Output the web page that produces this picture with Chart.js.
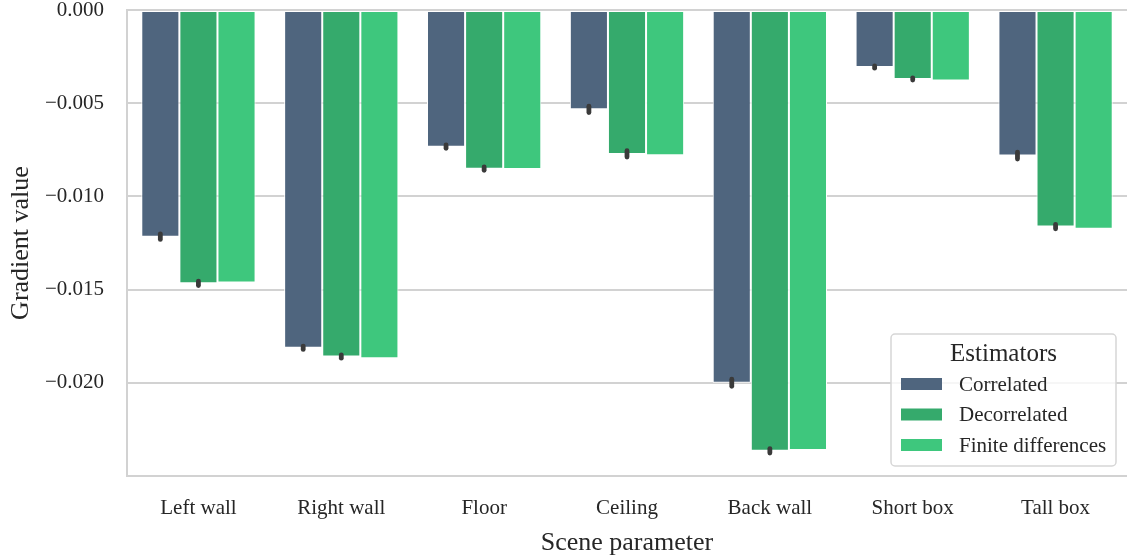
<!DOCTYPE html>
<html>
<head>
<meta charset="utf-8">
<title>Gradient value per scene parameter</title>
<script src="https://cdn.jsdelivr.net/npm/chart.js@4.4.0/dist/chart.umd.min.js"></script>
<style>
    html, body { margin: 0; padding: 0; background: #ffffff; }
    #wrap { width: 1127px; height: 557px; position: relative; }
</style>
</head>
<body>
<div id="wrap"><canvas id="gradient-chart"></canvas></div>
<script>
const sceneParams = ['Left wall', 'Right wall', 'Floor', 'Ceiling', 'Back wall', 'Short box', 'Tall box'];
const correlated = [-0.01216, -0.01812, -0.00733, -0.00533, -0.02000, -0.00306, -0.00781];
const decorrelated = [-0.01466, -0.01859, -0.00851, -0.00772, -0.02365, -0.00370, -0.01162];
const finiteDiff = [-0.01462, -0.01868, -0.00853, -0.00779, -0.02360, -0.00378, -0.01174];
// half width of the confidence interval (finite differences has none)
const correlatedErr = [0.00015, 0.00009, 0.00009, 0.00017, 0.00019, 0.00006, 0.00019];
const decorrelatedErr = [0.00012, 0.00009, 0.00009, 0.00017, 0.00012, 0.00006, 0.00012];
const yTicks = [-0.020, -0.015, -0.010, -0.005, 0];

const serif = "'Liberation Serif', 'DejaVu Serif', serif";
const textColor = '#262626';
const gridColor = '#d2d2d2';

// little dark caps at the bar ends
const errorBars = {
    id: 'errorBars',
    afterDatasetsDraw(chart) {
        const ctx = chart.ctx;
        const y = chart.scales.y;
        ctx.save();
        ctx.strokeStyle = '#3a3a3a';
        ctx.lineWidth = 4.8;
        ctx.lineCap = 'round';
        chart.data.datasets.forEach((ds, i) => {
            if (!ds.errors) return;
            chart.getDatasetMeta(i).data.forEach((bar, j) => {
                const v = ds.data[j];
                const e = ds.errors[j];
                ctx.beginPath();
                ctx.moveTo(bar.x, y.getPixelForValue(v + e));
                ctx.lineTo(bar.x, y.getPixelForValue(v - e));
                ctx.stroke();
            });
        });
        ctx.restore();
    }
};

// boxed legend in the lower right corner of the plot
const boxLegend = {
    id: 'boxLegend',
    afterDraw(chart) {
        const ctx = chart.ctx;
        const area = chart.chartArea;
        const w = 225, h = 132;
        const x = area.right - 11 - w;
        const top = area.bottom - 10 - h;
        ctx.save();
        ctx.fillStyle = 'rgba(255,255,255,0.8)';
        ctx.strokeStyle = '#d6d6d6';
        ctx.lineWidth = 1.5;
        ctx.beginPath();
        ctx.roundRect(x, top, w, h, 4);
        ctx.fill();
        ctx.stroke();

        ctx.fillStyle = textColor;
        ctx.textAlign = 'center';
        ctx.textBaseline = 'middle';
        ctx.font = '25px ' + serif;
        ctx.fillText('Estimators', x + w / 2, top + 20);

        ctx.textAlign = 'left';
        ctx.font = '21px ' + serif;
        chart.data.datasets.forEach((ds, i) => {
            const cy = top + 50 + i * 30.5;
            ctx.fillStyle = ds.backgroundColor;
            ctx.fillRect(x + 10, cy - 6, 41, 12);
            ctx.fillStyle = textColor;
            ctx.fillText(ds.label, x + 68, cy + 1);
        });
        ctx.restore();
    }
};

new Chart(document.getElementById('gradient-chart'), {
    type: 'bar',
    data: {
        labels: sceneParams,
        datasets: [{
            label: 'Correlated',
            data: correlated,
            errors: correlatedErr,
            backgroundColor: '#4f657e'
        }, {
            label: 'Decorrelated',
            data: decorrelated,
            errors: decorrelatedErr,
            backgroundColor: '#35aa6c'
        }, {
            label: 'Finite differences',
            data: finiteDiff,
            backgroundColor: '#3ec77d'
        }]
    },
    options: {
        responsive: true,
        maintainAspectRatio: false,
        animation: false,
        datasets: {
            bar: {
                categoryPercentage: 0.8,
                barPercentage: 1.0,
                borderColor: '#ffffff',
                borderWidth: 1,
                borderSkipped: false
            }
        },
        layout: {
            padding: { top: 10, right: 0, bottom: 0, left: 0 }
        },
        plugins: {
            legend: { display: false },
            tooltip: { enabled: false }
        },
        scales: {
            x: {
                afterFit: (scale) => { scale.height = 81; },
                grid: { display: false, drawTicks: false },
                border: { display: true, color: gridColor, width: 2 },
                ticks: {
                    color: textColor,
                    padding: 20,
                    maxRotation: 0,
                    font: { family: serif, size: 21 }
                },
                title: {
                    display: true,
                    text: 'Scene parameter',
                    color: textColor,
                    padding: { top: 0, bottom: -2 },
                    font: { family: serif, size: 26 }
                }
            },
            y: {
                min: -0.025,
                max: 0,
                afterFit: (scale) => {
                    scale.width = 127;
                    scale.paddingTop = 0;
                    scale.paddingBottom = 0;
                },
                afterBuildTicks: (scale) => { scale.ticks = yTicks.map(v => ({ value: v })); },
                grid: { color: gridColor, lineWidth: 2, drawTicks: false },
                border: { display: true, color: gridColor, width: 2 },
                ticks: {
                    color: textColor,
                    padding: 23,
                    font: { family: serif, size: 21, lineHeight: 1 },
                    callback: (v) => Number(v).toFixed(3).replace('-', '\u2212')
                },
                title: {
                    display: true,
                    text: 'Gradient value',
                    color: textColor,
                    padding: { top: 6, bottom: 0 },
                    font: { family: serif, size: 26 }
                }
            }
        }
    },
    plugins: [errorBars, boxLegend]
});
</script>
</body>
</html>
